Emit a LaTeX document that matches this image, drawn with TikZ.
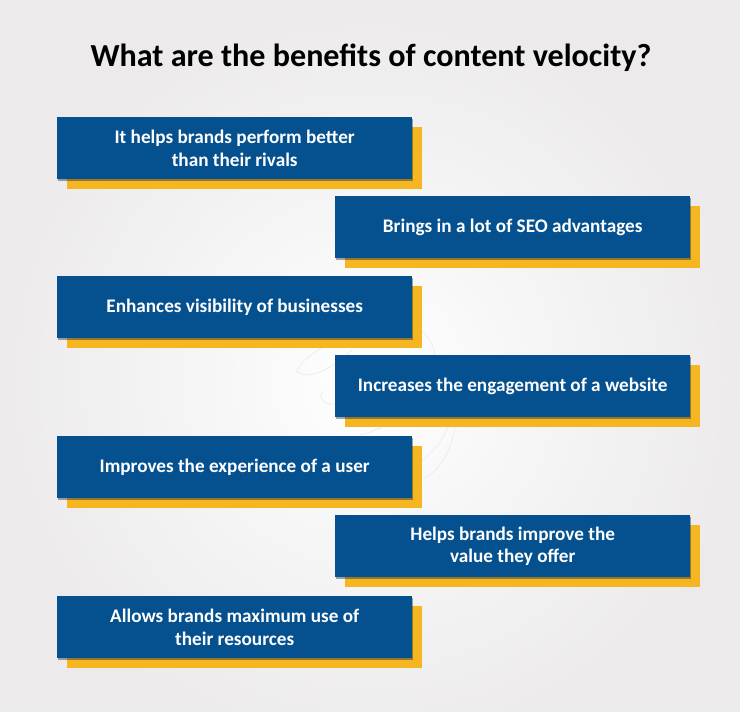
\documentclass[tikz,border=0pt]{standalone}
\usepackage{fontspec}
\setmainfont{Carlito}
\definecolor{bluebox}{HTML}{05508F}
\definecolor{goldbox}{HTML}{F5B622}
\definecolor{edgegrey}{HTML}{ECEAEB}
\definecolor{swirl}{HTML}{F0EFEF}
\tikzset{
  x=1pt,y=-1pt,
  card/.style={fill=bluebox,text=white,anchor=north west,minimum width=355pt,minimum height=62pt,inner sep=0pt,align=center,font=\fontsize{19.2}{22.5}\selectfont\bfseries},
  backing/.style={fill=goldbox},
  softedge/.style={fill=black!60!bluebox,opacity=.4},
  swirlline/.style={draw=swirl,line width=1pt,line cap=round}
}
\newcommand{\benefit}[4]{%
  \fill[backing] (#2+10,#3+10) rectangle ++(355,62);
  \fill[softedge] (#2+1,#3+2) rectangle ++(355,62);
  \node[card] (#1) at (#2,#3) {#4};
}
\begin{document}
\begin{tikzpicture}
\useasboundingbox (0,0) rectangle (740,712);
\begin{scope}
  \clip (0,0) rectangle (740,712);
  \shade[inner color=white,outer color=edgegrey] (-10,0) rectangle (750,760);
  \draw[swirlline] (297,372) .. controls (310,380) and (330,370) .. (352,350);
  \draw[swirlline] (297,372) .. controls (300,360) and (320,345) .. (355,335);
  \draw[swirlline] (322,392) .. controls (318,400) and (325,405) .. (335,404);
  \draw[swirlline] (420,330) .. controls (440,345) and (438,370) .. (425,385);
  \draw[swirlline] (455,425) .. controls (452,450) and (440,470) .. (425,478);
  \draw[swirlline] (450,420) .. controls (445,440) and (430,455) .. (420,462);
  \draw[swirlline] (360,435) .. controls (372,432) and (382,428) .. (392,420);
\end{scope}
\node[anchor=center,inner sep=0pt,font=\fontsize{32.1}{36}\selectfont\bfseries,text=black] (title) at (371,58) {What are the benefits of content velocity?};
\benefit{b1}{57}{117}{It helps brands perform better\\than their rivals}
\benefit{b2}{335}{196}{Brings in a lot of SEO advantages}
\benefit{b3}{57}{276}{Enhances visibility of businesses}
\benefit{b4}{335}{355}{Increases the engagement of a website}
\benefit{b5}{57}{436}{Improves the experience of a user}
\benefit{b6}{335}{515}{Helps brands improve the\\value they offer}
\benefit{b7}{57}{596}{Allows brands maximum use of\\their resources}
\end{tikzpicture}
\end{document}
